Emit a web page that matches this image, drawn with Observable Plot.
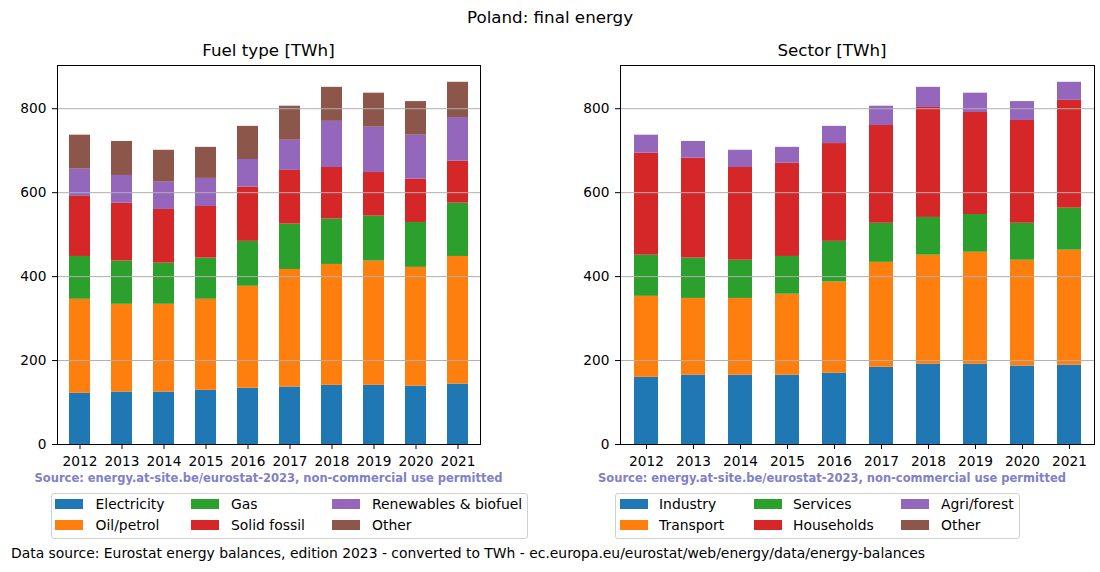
<!DOCTYPE html>
<html>
<head>
<meta charset="utf-8">
<script src="https://cdn.jsdelivr.net/npm/d3@7"></script>
<script src="https://cdn.jsdelivr.net/npm/@observablehq/plot@0.6"></script>
<style>
  html, body { margin: 0; padding: 0; background: #fff; }
  body { width: 1100px; height: 572px; position: relative; overflow: hidden; font-family: "DejaVu Sans", sans-serif; color: #000; }
  .abs { position: absolute; white-space: nowrap; }
  .title { font-size: 16.7px; }
  .foot { font-size: 13.9px; }
  .src { font-size: 11.5px; font-weight: bold; color: #8080c8; }
  .legend { position: absolute; border: 1px solid #d0d0d0; border-radius: 3px; box-sizing: border-box; background: #fff; }
  .sw { position: absolute; width: 28px; height: 9.5px; }
  .lt { position: absolute; font-size: 13.9px; line-height: 16px; white-space: nowrap; }
</style>
</head>
<body>
<script>
const years = ["2012","2013","2014","2015","2016","2017","2018","2019","2020","2021"];

// Fuel type [TWh]
const fuelSeries = ["Electricity","Oil/petrol","Gas","Solid fossil","Renewables & biofuel","Other"];
const electricity = [122,125,125,129,134,137,141,141,139,144];
const oilPetrol   = [224,209,209,217,243,280,288,296,283,304];
const gas         = [102,103, 98, 98,107,108,108,107,107,127];
const solidFossil = [143,138,128,123,129,128,123,104,103,100];
const renewables  = [ 65, 66, 65, 67, 66, 72,110,108,105,104];
const fuelOther   = [ 81, 81, 76, 74, 79, 81, 81, 81, 80, 84];

// Sector [TWh]
const sectorSeries = ["Industry","Transport","Services","Households","Agri/forest","Other"];
const industry   = [160,165,165,165,170,184,191,191,187,189];
const transport  = [193,183,183,193,217,250,260,267,252,274];
const services   = [ 98, 96, 91, 90, 97, 93, 90, 90, 88,100];
const households = [243,238,221,222,233,233,262,243,245,257];
const agriForest = [ 43, 40, 41, 38, 41, 46, 48, 46, 45, 43];
const sectorOther= [  0,  0,  0,  0,  0,  0,  0,  0,  0,  0];

const yTicks = [0,200,400,600,800];
const colors = ["#1f77b4","#ff7f0e","#2ca02c","#d62728","#9467bd","#8c564b"];

const mainTitle = "Poland: final energy";
const fuelTitle = "Fuel type [TWh]";
const sectorTitle = "Sector [TWh]";
const sourceNote = "Source: energy.at-site.be/eurostat-2023, non-commercial use permitted";
const dataSource = "Data source: Eurostat energy balances, edition 2023 - converted to TWh - ec.europa.eu/eurostat/web/energy/data/energy-balances";

function toRows(series, arrays) {
  const rows = [];
  series.forEach((s, si) => years.forEach((y, yi) => rows.push({year: y, series: s, value: arrays[si][yi]})));
  return rows;
}

function panel(series, arrays, mLeft, mRight) {
  const rows = toRows(series, arrays);
  return Plot.plot({
    width: 550,
    height: 480,
    marginTop: 65,
    marginBottom: 36,
    marginLeft: mLeft,
    marginRight: mRight,
    style: {fontFamily: "DejaVu Sans, sans-serif", fontSize: "13.5px", color: "#000", background: "transparent", overflow: "visible"},
    x: {domain: years, paddingInner: 0.5, paddingOuter: 0.25, label: null},
    y: {domain: [0, 903], label: null},
    color: {domain: series, range: colors},
    marks: [
      Plot.barY(rows, {x: "year", y: "value", fill: "series", order: series, inset: 0}),
      Plot.gridY(yTicks, {stroke: "#b0b0b0", strokeOpacity: 1, strokeWidth: 1}),
      Plot.axisY(yTicks, {tickSize: 5, tickPadding: 6, fontSize: 13.7, label: null, stroke: "#000"}),
      Plot.axisX({tickSize: 5, tickPadding: 7, fontSize: 13.7, label: null, stroke: "#000"}),
      Plot.frame({stroke: "#000", strokeWidth: 1})
    ]
  });
}

function place(el, left, top) {
  el.style.position = "absolute";
  el.style.left = left + "px";
  el.style.top = top + "px";
  document.body.appendChild(el);
  return el;
}

function text(str, cls, left, top, center) {
  const d = document.createElement("div");
  d.className = "abs " + cls;
  d.textContent = str;
  d.style.left = left + "px";
  d.style.top = top + "px";
  if (center) d.style.transform = "translate(-50%, -50%)";
  else d.style.transform = "translate(0, -50%)";
  document.body.appendChild(d);
  return d;
}

const left = panel(fuelSeries, [electricity, oilPetrol, gas, solidFossil, renewables, fuelOther], 57, 70);
place(left, 0, 0);
const right = panel(sectorSeries, [industry, transport, services, households, agriForest, sectorOther], 70, 6);
place(right, 550, 0);

text(mainTitle, "title", 550, 17, true);
text(fuelTitle, "title", 268.5, 50, true);
text(sectorTitle, "title", 832, 50, true);
text(sourceNote, "src", 268.5, 477.5, true);
text(sourceNote, "src", 832, 477.5, true);
text(dataSource, "foot", 11, 553, false);

function legend(series, boxLeft, boxWidth, colX, textX) {
  const box = document.createElement("div");
  box.className = "legend";
  box.style.left = boxLeft + "px";
  box.style.top = "493px";
  box.style.width = boxWidth + "px";
  box.style.height = "46px";
  document.body.appendChild(box);
  const rowY = [504, 525];
  series.forEach((s, i) => {
    const c = Math.floor(i / 2), r = i % 2;
    const sw = document.createElement("div");
    sw.className = "sw";
    sw.style.background = colors[i];
    sw.style.left = colX[c] + "px";
    sw.style.top = (rowY[r] - 4.75) + "px";
    document.body.appendChild(sw);
    const t = document.createElement("div");
    t.className = "lt";
    t.textContent = s;
    t.style.left = textX[c] + "px";
    t.style.top = (rowY[r] - 8) + "px";
    document.body.appendChild(t);
  });
}
legend(fuelSeries, 51, 477, [55, 191, 332], [95.5, 231, 372]);
legend(sectorSeries, 615, 405, [620, 754, 901], [659, 793, 941]);
</script>
</body>
</html>
